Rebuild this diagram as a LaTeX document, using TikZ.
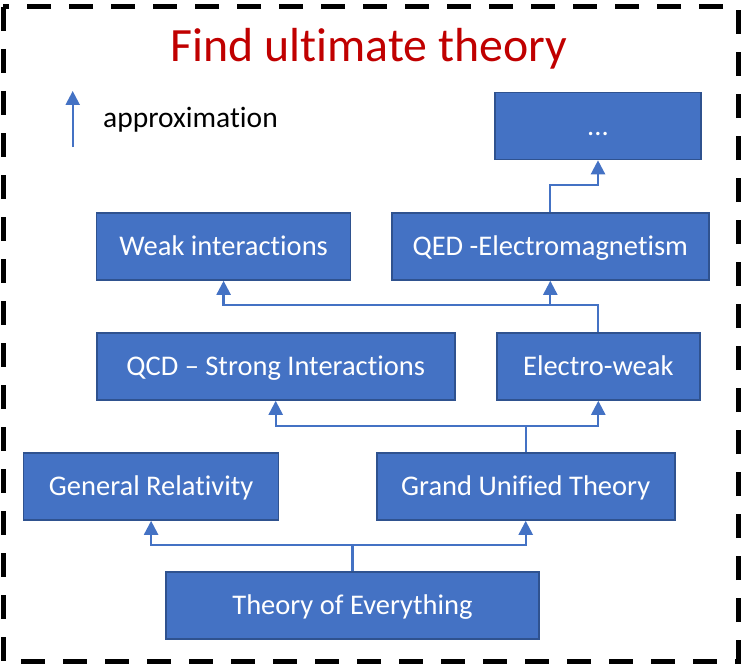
\documentclass[tikz,border=0pt]{standalone}
\usepackage{fontspec}
\setmainfont[Ligatures={NoCommon}]{Carlito}
\usetikzlibrary{arrows.meta}
\definecolor{boxfill}{HTML}{4472C4}
\definecolor{boxedge}{HTML}{2F528F}
\definecolor{titlered}{HTML}{C00000}
\tikzset{
  theorybox/.style={draw=boxedge, fill=boxfill, line width=1.6pt, text=white,
    minimum height=67pt, inner sep=0pt, text height=18.4pt, text depth=0pt,
    font=\fontsize{28.5}{32}\selectfont},
  conn/.style={draw=boxfill, line width=2.3pt, -{Triangle[width=14pt,length=14pt]}},
  frame/.style={draw=black, line width=5pt, dash pattern=on 24pt off 18pt}
}
\begin{document}
\begin{tikzpicture}[x=1pt,y=-1pt]
\useasboundingbox (0,0) rectangle (743,666);
\draw[frame] (3,7) rectangle (738,661);
\node[text=titlered, anchor=base, font=\fontsize{47.8}{52}\selectfont] (title) at (369,62) {Find ultimate theory};
\coordinate (lgbot) at (72.7,147);
\coordinate (lgtop) at (72.7,91);
\draw[conn] (lgbot) -- (lgtop);
\node[anchor=base west, font=\fontsize{29.5}{32}\selectfont, inner sep=0pt] (legend) at (103,127) {approximation};

\node[theorybox, minimum width=206pt] (dots) at (598,126) {...};
\node[theorybox, minimum width=254pt] (weak) at (223.6,246.5) {Weak interactions};
\node[theorybox, minimum width=317pt] (qed) at (550.3,246.5) {QED -Electromagnetism};
\node[theorybox, minimum width=358pt] (qcd) at (275.7,366.5) {QCD – Strong Interactions};
\node[theorybox, minimum width=203pt] (ew) at (598.3,366.5) {Electro-weak};
\node[theorybox, minimum width=255pt] (gr) at (151.1,486.5) {General Relativity};
\node[theorybox, minimum width=298pt] (gut) at (525.7,486.5) {Grand Unified Theory};
\node[theorybox, minimum width=373pt] (toe) at (352.5,605.5) {Theory of Everything};

\draw[conn] (toe.north) -- ++(0,-26.5) -| (gr.south);
\draw[conn] (toe.north) -- ++(0,-26.5) -| (gut.south);
\draw[conn] (gut.north) -- ++(0,-26.5) -| (qcd.south);
\draw[conn] (gut.north) -- ++(0,-26.5) -| (ew.south);
\draw[conn] (ew.north) -- ++(0,-27) -| (weak.south);
\draw[conn] (ew.north) -- ++(0,-27) -| (qed.south);
\draw[conn] (qed.north) -- ++(0,-27) -| (dots.south);
\end{tikzpicture}
\end{document}
